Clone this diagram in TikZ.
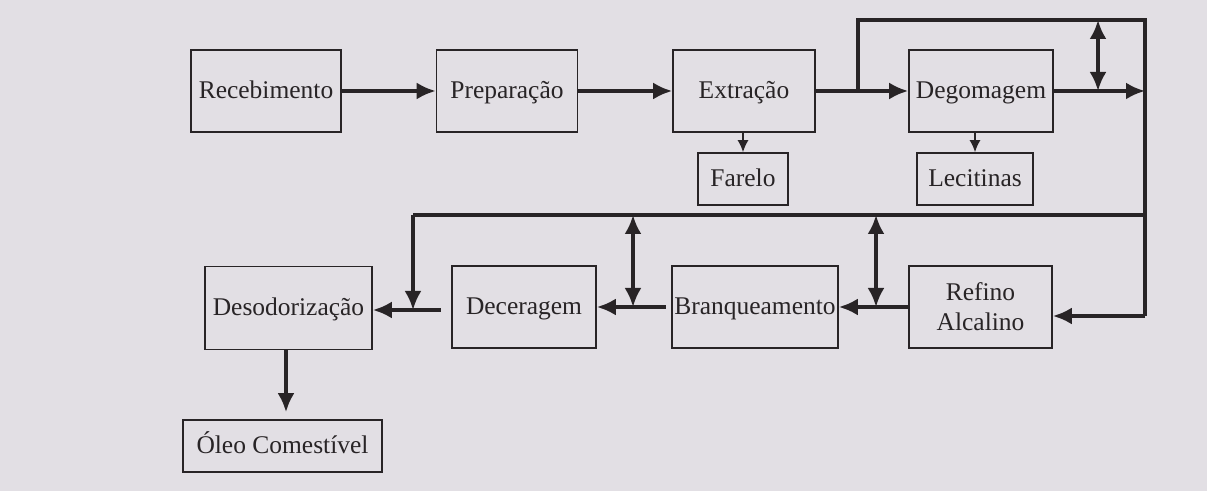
\documentclass[tikz,border=0pt]{standalone}
\usepackage{fontspec}
\setmainfont{Liberation Serif}
\usepackage{tikz}
\usetikzlibrary{positioning,calc,shapes,arrows.meta}

\definecolor{paper}{RGB}{226,223,228}
\definecolor{ink}{RGB}{40,36,38}

\tikzset{
	etapa/.style={draw=ink, line width=0.9pt, rectangle, minimum height=1.64cm, font=\fontsize{14.5}{17}\selectfont, text=ink, align=center, inner sep=1pt, text height=2.5ex, text depth=0.6ex},
	etapa2/.style={draw=ink, line width=0.9pt, rectangle, minimum height=1.64cm, font=\fontsize{14.5}{17}\selectfont, text=ink, align=center, inner sep=1pt},
	produto/.style={etapa, minimum height=1.04cm},
	fluxo/.style={draw=ink, line width=2pt, -{Latex[length=3.8mm,width=3.4mm]}},
	fluxodup/.style={draw=ink, line width=2pt, {Latex[length=3.8mm,width=3.4mm]}-{Latex[length=3.8mm,width=3.4mm]}},
	linha/.style={draw=ink, line width=2pt},
	fino/.style={draw=ink, line width=0.9pt, -{Latex[length=2.4mm,width=2.2mm]}}
}

\begin{document}
\begin{tikzpicture}
	\fill[paper] (0,0) rectangle (24.14,9.82);
	\useasboundingbox (0,0) rectangle (24.14,9.82);

	\node [etapa, minimum width=3cm] (Rec) at (5.32, 8.0) {Recebimento};
	\node [etapa, minimum width=2.82cm] (Prep) at (10.14, 8.0) {Preparação};
	\node [etapa, minimum width=2.84cm] (Ext) at (14.88, 8.0) {Extração};
	\node [etapa, minimum width=2.88cm] (Deg) at (19.62, 8.0) {Degomagem};
	\node [produto, minimum width=1.8cm] (Far) at (14.86, 6.24) {Farelo};
	\node [produto, minimum width=2.32cm] (Lec) at (19.5, 6.24) {Lecitinas};
	\node [etapa2, minimum width=2.86cm] (Ref) at (19.61, 3.68) {Refino\\Alcalino};
	\node [etapa, minimum width=3.32cm] (Bra) at (15.1, 3.68) {Branqueamento};
	\node [etapa, minimum width=2.88cm] (Dec) at (10.48, 3.68) {Deceragem};
	\node [etapa, minimum width=3.34cm, minimum height=1.66cm] (Des) at (5.77, 3.66) {Desodorização};
	\node [produto, minimum width=3.98cm] (Oleo) at (5.65, 0.9) {Óleo Comestível};

	% pontos auxiliares
	\coordinate (desvio) at (17.16, 8.0);
	\coordinate (topo) at (17.16, 9.42);
	\coordinate (canto) at (22.9, 9.42);
	\coordinate (saida) at (22.9, 8.0);
	\coordinate (retorno) at (22.9, 3.5);
	\coordinate (baixo) at (22.9, 5.52);
	\coordinate (dobra) at (8.26, 5.52);
	\coordinate (entrada) at (8.26, 3.62);

	\path [fluxo] (Rec) -- (Prep);
	\path [fluxo] (Prep) -- (Ext);
	\path [fluxo] (Ext) -- (Deg);
	\path [fluxo] (Deg) -- (saida);
	\path [fino] (Ext.south -| Far.north) -- (Far);
	\path [fino] (Deg.south -| Lec.north) -- (Lec);
	\path [linha] (desvio) -- (topo) -- (canto) -- (retorno);
	\path [fluxo] (retorno) -- (Ref.east |- retorno);
	\path [fluxodup] (canto -| 21.96,0) -- (saida -| 21.96,0);

	\path [fluxo] (Ref.west) -- (Bra.east);
	\path [fluxo] ([xshift=-3pt]Bra.west) -- (Dec.east);
	\path [fluxo] ([xshift=-6pt]Dec.west |- entrada) -- (Des.east |- entrada);
	\path [linha] (baixo) -- (dobra);
	\path [fluxo] (dobra) -- (entrada);
	\path [fluxodup] (17.52, 5.52) -- (17.52, 3.68);
	\path [fluxodup] (12.66, 5.52) -- (12.66, 3.68);
	\path [fluxo, shorten >=4pt] (Des.south -| 5.72,0) -- (Oleo.north -| 5.72,0);
\end{tikzpicture}
\end{document}
